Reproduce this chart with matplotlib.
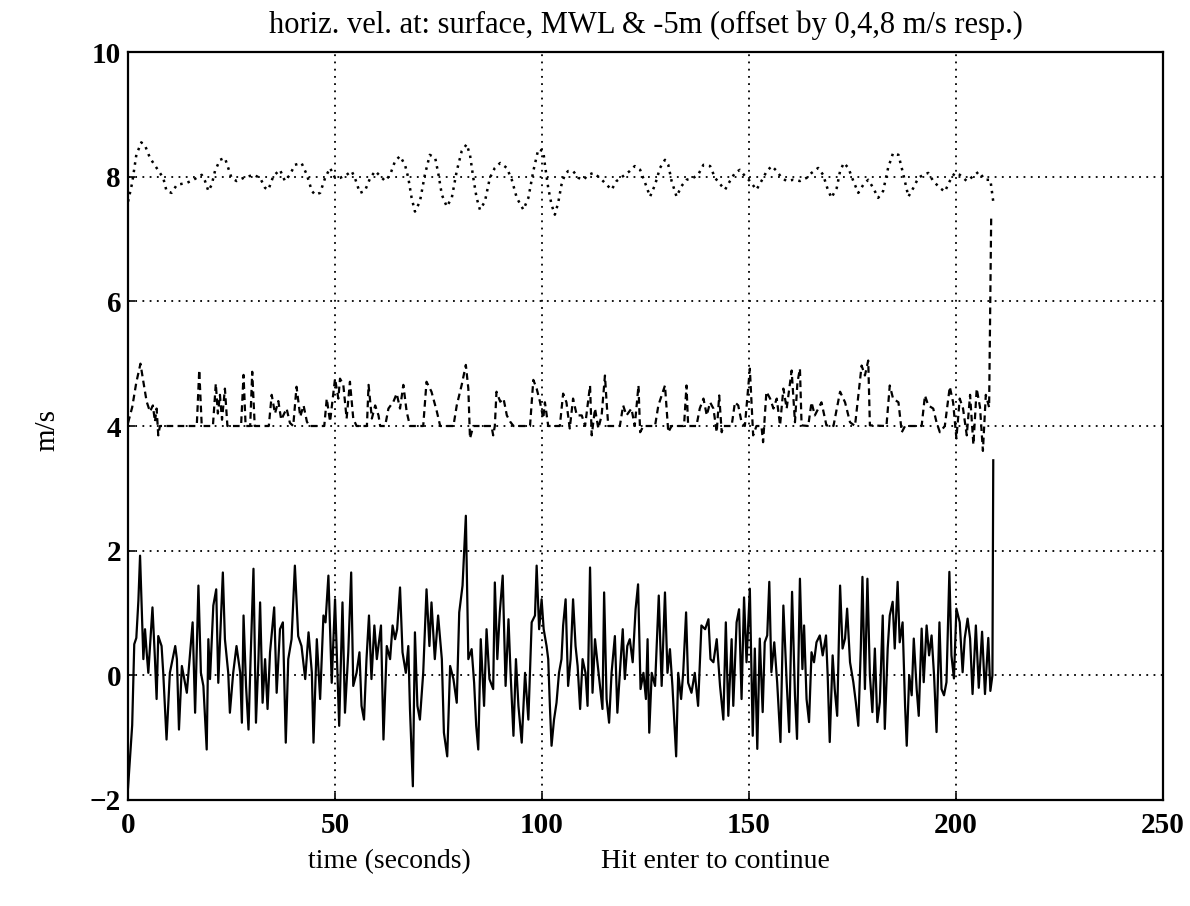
import matplotlib
matplotlib.use("Agg")
import matplotlib.pyplot as plt

plt.rcParams['font.family'] = ['Liberation Serif', 'DejaVu Serif']

# surface velocity (offset 0)
t_surf = [0, 0.5, 1.0, 1.5, 2.0, 2.5, 2.9, 3.7, 4.1, 4.5, 4.9, 5.9, 6.5, 6.9, 7.3, 8.1, 8.5, 9.3,
          10.1, 11.4, 11.8, 12.3, 13.0, 14.2, 15.0, 15.6, 16.2, 17.0, 17.6, 18.2, 19.0, 19.4, 19.8,
          20.6, 21.3, 21.8, 22.9, 23.4, 24.2, 24.6, 25.4, 26.2, 27.1, 27.5, 27.9, 28.5, 29.1, 29.6,
          30.3, 30.9, 31.5, 31.9, 32.5, 33.1, 33.7, 34.3, 35.3, 35.9, 36.7, 37.4, 38.1, 38.7, 39.5,
          40.3, 41.1, 41.9, 42.8, 43.6, 44.4, 44.8, 45.6, 46.4, 47.2, 47.7, 48.4, 49.2, 50.0, 51.0,
          51.8, 52.4, 53.2, 53.9, 54.4, 55.2, 55.9, 56.4, 57.0, 57.6, 58.2, 58.8, 59.5, 60.1, 61.1,
          61.7, 62.5, 63.3, 63.9, 64.5, 65.0, 65.7, 66.3, 67.1, 67.7, 68.1, 68.8, 69.3, 69.9, 70.5,
          71.3, 72.1, 72.8, 73.3, 74.1, 74.9, 75.8, 76.3, 77.1, 77.8, 78.6, 79.4, 80.0, 80.8, 81.6,
          82.2, 83.0, 83.6, 84.1, 84.6, 85.2, 86.0, 86.6, 87.3, 88.2, 88.6, 89.2, 89.8, 90.5, 91.2,
          91.9, 92.4, 93.1, 93.7, 94.3, 95.1, 95.9, 96.7, 97.5, 98.3, 98.7, 99.3, 99.9, 100.4, 101.1,
          101.5, 101.9, 102.3, 102.9, 103.5, 104.1, 104.7, 105.1, 105.7, 106.3, 106.9, 107.5, 108.1,
          108.6, 109.2, 109.8, 110.5, 111.0, 111.6, 112.2, 112.8, 113.3, 114.0, 114.6, 115.0, 115.6,
          116.2, 116.8, 117.6, 118.2, 118.8, 119.5, 120.0, 120.6, 121.2, 121.9, 122.6, 123.2, 123.8,
          124.5, 125.1, 125.5, 125.9, 126.5, 127.3, 127.8, 128.2, 128.9, 129.7, 130.3, 130.9, 131.5,
          132.4, 132.9, 133.6, 134.1, 134.8, 135.3, 136.1, 136.9, 137.7, 138.5, 139.4, 140.2, 140.7,
          141.4, 142.2, 143.0, 143.8, 144.4, 145.0, 145.8, 146.2, 147.0, 147.6, 148.2, 148.8, 149.4,
          150.2, 150.9, 151.4, 152.0, 152.6, 153.3, 153.8, 154.4, 154.9, 155.4, 156.1, 156.8, 157.6,
          158.3, 159.1, 159.7, 160.4, 161.1, 161.6, 162.3, 162.9, 163.3, 163.9, 164.5, 165.1, 165.7,
          166.3, 167.1, 167.8, 168.6, 169.0, 169.5, 170.2, 170.7, 171.3, 172.0, 172.6, 173.2, 173.7,
          174.4, 175.2, 175.8, 176.4, 177.0, 177.4, 178.0, 178.6, 179.2, 179.8, 180.4, 181.0, 181.6,
          182.3, 182.8, 183.5, 184.0, 184.7, 185.2, 185.9, 186.4, 187.1, 187.7, 188.1, 188.7, 189.3,
          189.8, 190.5, 191.0, 191.7, 192.2, 192.9, 193.5, 194.1, 194.7, 195.3, 196.0, 196.5, 197.1,
          197.7, 198.4, 198.9, 199.5, 200.1, 200.9, 201.6, 202.1, 202.8, 203.4, 204.0, 204.8, 205.5,
          206.3, 207.0, 207.8, 208.3, 208.8, 209.0]
v_surf = [-1.8, -1.3, -0.8, 0.5, 0.6, 1.2, 1.92, 0.26, 0.74, 0.37, 0.04, 1.09, 0.26, -0.38, 0.63, 0.47,
          0.04, -1.03, 0.04, 0.47, 0.26, -0.87, 0.15, -0.28, 0.37, 0.85, -0.6, 1.44, 0.04, -0.17, -1.19,
          0.58, -0.06, 1.12, 1.38, -0.12, 1.65, 0.58, 0.04, -0.6, 0.04, 0.47, 0.04, -0.76, 0.96, -0.17,
          -0.87, 0.26, 1.71, -0.76, 0.26, 1.17, -0.44, 0.26, -0.54, 0.37, 1.09, -0.28, 0.74, 0.85,
          -1.08, 0.26, 0.58, 1.76, 0.63, 0.47, -0.06, 0.69, 0.04, -1.08, 0.58, -0.38, 0.96, 0.85, 1.6,
          -0.12, 1.22, -0.81, 1.17, -0.6, 0.37, 1.65, -0.17, 0.04, 0.37, -0.49, -0.71, 0.26, 0.96,
          -0.06, 0.8, 0.26, 0.8, -1.03, 0.47, 0.26, 0.8, 0.58, 0.74, 1.41, 0.37, 0.04, 0.47, -0.54,
          -1.78, 0.69, -0.49, -0.71, 0.04, 1.38, 0.47, 1.17, 0.26, 0.96, 0.26, -0.92, -1.3, 0.15,
          -0.06, -0.44, 1.01, 1.44, 2.56, 0.26, 0.42, -0.12, -0.81, -1.19, 0.58, -0.49, 0.74, -0.06,
          -0.22, 1.49, 0.26, 1.01, 1.6, -0.17, 0.9, 0.04, -0.97, 0.26, -0.49, -1.08, 0.04, -0.71,
          0.85, 0.96, 1.76, 0.74, 1.22, 0.74, 0.47, 0.26, -0.49, -1.13, -0.71, -0.44, 0.04, 0.26, 0.8,
          1.22, -0.17, 0.26, 1.22, 0.47, 0.15, -0.54, 0.26, 0.04, -0.49, 1.73, -0.28, 0.58, 0.26,
          -0.17, -0.54, 1.33, -0.38, -0.76, 0.04, 0.63, -0.6, 0.04, 0.74, -0.06, 0.47, 0.58, 0.21,
          1.06, 1.46, -0.22, 0.04, -0.38, 0.58, -0.92, 0.04, -0.17, 0.63, 1.28, -0.17, 1.33, 0.04,
          0.42, -0.17, -1.3, 0.04, -0.38, 0.04, 1.01, -0.12, -0.28, 0.04, -0.49, 0.8, 0.74, 0.9, 0.26,
          0.21, 0.58, -0.17, -0.71, 0.85, -0.65, 0.58, -0.49, 0.85, 1.06, -0.38, 1.25, 0.21, 1.39,
          -0.97, 0.43, -1.18, 0.59, -0.59, 0.53, 0.64, 1.5, 0.05, 0.53, -0.11, -1.07, 1.12, -0.11,
          -0.91, 1.34, -0.32, -1.02, 1.55, 0.1, 0.8, -0.38, -0.75, 0.37, 0.21, 0.53, 0.64, 0.32, 0.64,
          0.0, -1.07, 0.32, -0.22, -0.65, 1.44, 0.43, 0.59, 1.07, 0.21, -0.11, -0.43, -0.81, 0.43,
          1.58, -0.22, 1.55, 0.0, -0.59, 0.43, -0.75, -0.43, 0.96, -0.86, 0.43, 0.96, 1.18, 0.43, 1.5,
          0.53, 0.85, -0.49, -1.13, 0.0, -0.32, 0.59, -0.22, -0.65, 0.75, -0.11, 0.8, 0.32, 0.64, 0.0,
          -0.91, 0.85, -0.22, -0.32, -0.11, 1.66, 0.32, -0.05, 1.07, 0.85, 0.05, 0.59, 0.91, 0.59,
          -0.3, 0.8, -0.2, 0.7, -0.3, 0.6, -0.25, 0.0, 3.45]

# MWL velocity (offset 4)
t_mwl = [0, 1.0, 2.0, 3.0, 3.7, 4.5, 5.3, 6.0, 6.5, 6.9, 7.3, 7.7, 16.6, 17.2, 17.8, 20.5, 21.2, 21.7,
         22.2, 22.7, 23.4, 24.0, 27.3, 27.9, 28.4, 29.5, 30.0, 30.6, 34.0, 34.7, 35.5, 36.3, 37.0,
         38.3, 39.1, 39.9, 40.7, 41.6, 42.4, 43.2, 43.8, 47.4, 48.0, 48.8, 50.0, 50.8, 51.2, 52.0,
         52.8, 53.6, 54.4, 55.2, 57.7, 58.1, 58.9, 59.7, 60.5, 60.9, 62.1, 62.9, 64.1, 64.9, 65.7,
         66.5, 67.3, 68.1, 71.3, 72.1, 73.3, 74.6, 75.4, 78.6, 79.4, 80.6, 81.6, 82.2, 82.6, 83.4,
         87.8, 88.2, 88.6, 89.0, 89.9, 90.7, 91.5, 92.3, 93.1, 97.1, 97.9, 98.7, 99.5, 100.3, 100.7,
         101.5, 104.3, 105.1, 105.9, 106.7, 107.5, 108.4, 109.6, 110.4, 111.6, 112.0, 112.8, 113.6,
         114.4, 115.2, 115.6, 116.0, 118.8, 119.6, 120.4, 121.6, 122.4, 123.3, 123.7, 124.5, 127.3,
         128.1, 129.7, 130.5, 131.3, 134.3, 134.9, 135.3, 137.3, 138.1, 139.0, 139.8, 140.6, 141.4,
         142.2, 142.8, 143.4, 143.8, 145.8, 146.6, 147.4, 148.2, 149.0, 150.2, 151.0, 151.8, 153.0,
         153.4, 154.2, 155.1, 155.9, 156.7, 157.5, 158.3, 159.1, 160.3, 161.1, 161.7, 162.3, 162.7,
         164.3, 165.1, 165.9, 167.5, 168.7, 170.4, 172.0, 173.2, 174.4, 175.6, 177.2, 178.0, 178.8,
         179.2, 183.2, 184.0, 184.8, 186.1, 186.9, 187.7, 191.7, 192.5, 193.3, 194.5, 195.3, 196.1,
         197.3, 198.5, 199.3, 200.1, 200.9, 201.7, 202.6, 203.4, 204.2, 205.0, 205.8, 206.5, 207.2,
         208.0, 208.5]
v_mwl = [4.05, 4.3, 4.7, 5.0, 4.71, 4.39, 4.23, 4.33, 4.07, 4.28, 3.85, 4.0, 4.0, 4.9, 4.0, 4.0, 4.68,
         4.2, 4.5, 4.1, 4.6, 4.0, 4.0, 4.82, 4.0, 4.0, 4.87, 4.0, 4.0, 4.5, 4.2, 4.4, 4.1, 4.28, 4.05,
         4.0, 4.63, 4.15, 4.33, 4.07, 4.0, 4.0, 4.44, 4.07, 4.76, 4.44, 4.76, 4.66, 4.12, 4.71, 4.12,
         4.0, 4.0, 4.66, 4.12, 4.33, 4.17, 4.0, 4.0, 4.28, 4.39, 4.52, 4.28, 4.66, 4.23, 4.0, 4.0,
         4.71, 4.55, 4.23, 4.0, 4.0, 4.33, 4.66, 4.98, 4.6, 3.8, 4.0, 4.0, 3.85, 4.0, 4.55, 4.39,
         4.44, 4.17, 4.07, 4.0, 4.0, 4.74, 4.6, 4.39, 4.12, 4.38, 4.0, 4.0, 4.52, 4.38, 3.96, 4.44,
         4.17, 4.17, 4.0, 4.65, 3.85, 4.28, 3.96, 4.17, 4.81, 4.38, 4.0, 4.0, 4.33, 4.17, 4.28, 4.0,
         4.65, 3.9, 4.0, 4.0, 4.33, 4.65, 3.9, 4.0, 4.0, 4.65, 4.0, 4.0, 4.28, 4.44, 4.17, 4.38, 4.28,
         3.9, 4.49, 3.9, 4.0, 4.0, 4.38, 4.33, 4.06, 4.0, 4.92, 3.85, 4.0, 4.0, 3.74, 4.55, 4.44,
         4.28, 4.44, 4.01, 4.6, 4.28, 4.89, 4.06, 4.7, 4.92, 4.01, 4.0, 4.38, 4.17, 4.38, 4.01, 4.0,
         4.55, 4.38, 4.06, 4.0, 4.97, 4.81, 5.05, 4.01, 4.0, 4.65, 4.44, 4.38, 3.9, 4.0, 4.0, 4.49,
         4.33, 4.28, 4.06, 3.9, 4.0, 4.63, 4.38, 3.8, 4.44, 4.28, 3.85, 4.5, 3.7, 4.6, 4.3, 3.6, 4.5,
         4.3, 7.35]

# -5m velocity (offset 8)
t_deep = [0, 1.0, 2.0, 3.2, 4.1, 5.3, 6.9, 8.5, 9.3, 10.5, 11.8, 14.2, 15.8, 17.8, 18.6, 19.4, 20.2,
          21.0, 22.2, 23.4, 24.2, 25.0, 26.2, 27.9, 30.3, 31.9, 33.1, 33.9, 35.1, 36.7, 37.9, 39.1,
          40.3, 41.9, 43.2, 44.4, 45.2, 46.4, 47.6, 48.8, 50.0, 51.2, 52.8, 54.0, 54.8, 56.0, 57.2,
          58.5, 59.7, 60.9, 62.1, 63.3, 64.5, 65.7, 66.9, 67.7, 68.5, 69.3, 70.5, 71.7, 72.9, 74.2,
          75.0, 75.8, 77.0, 78.2, 79.4, 80.6, 81.8, 82.6, 83.4, 84.2, 85.0, 86.2, 87.4, 88.6, 89.9,
          91.5, 92.7, 93.9, 95.5, 96.7, 97.9, 99.1, 100.3, 100.7, 101.5, 102.3, 103.1, 103.9, 104.7,
          105.5, 106.3, 107.5, 108.8, 110.0, 111.2, 112.4, 114.0, 115.6, 116.8, 118.0, 119.6, 121.2,
          122.4, 123.7, 124.9, 126.1, 127.3, 128.5, 129.7, 130.5, 131.3, 132.5, 133.7, 134.9, 136.5,
          137.7, 139.0, 140.6, 141.8, 143.4, 144.2, 145.4, 146.6, 147.8, 149.0, 150.2, 151.8, 153.0,
          154.3, 155.5, 156.7, 157.9, 159.1, 160.7, 162.3, 163.9, 165.1, 166.7, 167.9, 168.9, 169.9,
          171.2, 172.0, 172.9, 174.0, 175.2, 176.4, 177.6, 178.8, 180.0, 181.2, 182.4, 183.6, 184.8,
          186.1, 187.3, 188.5, 189.7, 190.9, 192.1, 193.3, 194.5, 196.1, 197.3, 198.5, 199.7, 200.9,
          202.6, 204.0, 205.5, 207.0, 208.3, 209.0]
v_deep = [7.6, 7.9, 8.35, 8.55, 8.5, 8.3, 8.14, 7.98, 7.77, 7.74, 7.87, 7.9, 7.95, 8.03, 7.93, 7.77,
          7.87, 8.09, 8.27, 8.3, 8.14, 7.98, 7.93, 7.98, 8.03, 7.98, 7.82, 7.79, 8.01, 8.11, 7.93,
          8.03, 8.19, 8.22, 8.03, 7.77, 7.71, 7.74, 7.98, 8.14, 7.98, 7.98, 8.03, 8.09, 7.98, 7.74,
          7.77, 7.98, 8.09, 8.01, 7.93, 8.03, 8.25, 8.33, 8.19, 7.98, 7.66, 7.44, 7.6, 8.03, 8.35,
          8.3, 8.03, 7.71, 7.52, 7.66, 8.09, 8.41, 8.52, 8.35, 7.98, 7.66, 7.47, 7.6, 7.98, 8.14,
          8.22, 8.14, 7.95, 7.66, 7.47, 7.66, 8.09, 8.44, 8.41, 8.19, 7.82, 7.55, 7.39, 7.58, 7.87,
          8.03, 8.09, 8.09, 7.98, 7.95, 8.03, 8.06, 7.98, 7.87, 7.79, 7.93, 8.01, 8.09, 8.17, 8.11,
          7.9, 7.68, 7.87, 8.14, 8.27, 8.19, 7.93, 7.68, 7.85, 7.95, 7.98, 8.03, 8.19, 8.17, 7.98,
          7.85, 7.79, 7.93, 8.06, 8.11, 8.01, 7.93, 7.79, 7.93, 8.09, 8.17, 8.09, 7.98, 7.93, 7.95,
          7.93, 7.98, 8.06, 8.14, 8.03, 7.82, 7.66, 7.82, 8.09, 8.22, 8.14, 7.93, 7.74, 7.87, 7.95,
          7.82, 7.66, 7.77, 8.14, 8.38, 8.35, 8.03, 7.68, 7.82, 7.98, 8.03, 8.06, 7.93, 7.82, 7.76,
          7.93, 8.06, 8.03, 7.93, 8.0, 8.08, 7.95, 7.95, 7.6]

x_ticks = [0, 50, 100, 150, 200, 250]
y_ticks = [-2, 0, 2, 4, 6, 8, 10]

fig = plt.figure(figsize=(11.9, 9.06), dpi=100)
ax = fig.add_axes([0.1076, 0.117, 0.8697, 0.8256])

ax.plot(t_surf, v_surf, color='black', lw=1.6, linestyle='-')
ax.plot(t_mwl, v_mwl, color='black', lw=1.6, linestyle=(0, (3, 2)))
ax.plot(t_deep, v_deep, color='black', lw=1.8, linestyle=(0, (1, 2)))

ax.set_xlim(0, 250)
ax.set_ylim(-2, 10)
ax.set_xticks(x_ticks)
ax.set_yticks(y_ticks)
ax.grid(True, color='black', linestyle=(0, (1, 3)), lw=1.3)
for s in ax.spines.values():
    s.set_linewidth(1.6)
ax.tick_params(direction='in', length=5, width=1.2, labelsize=21)
ax.tick_params(axis='y', pad=5)
ax.tick_params(axis='x', pad=9)
for lab in ax.get_xticklabels() + ax.get_yticklabels():
    lab.set_fontweight('bold')

ax.set_title("horiz. vel. at: surface, MWL & -5m (offset by 0,4,8 m/s resp.)",
             fontsize=22, pad=14)
fig.text(0.04, 0.525, "m/s", rotation=90, ha='center', va='center', fontsize=21)
fig.text(0.259, 0.049, "time (seconds)", ha='left', va='center', fontsize=20)
fig.text(0.505, 0.049, "Hit enter to continue", ha='left', va='center', fontsize=20)

fig.savefig("out.png", dpi=100)
